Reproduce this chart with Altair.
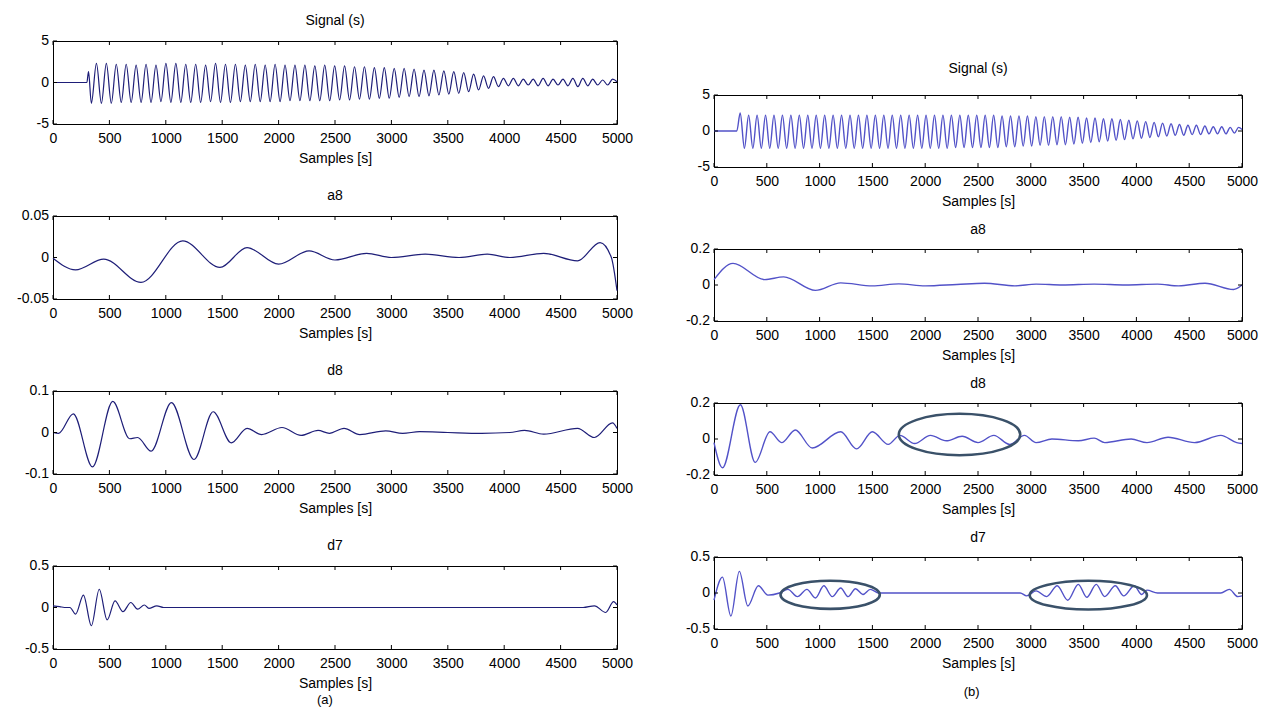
import altair as alt
import pandas as pd

X_TICKS = [0, 500, 1000, 1500, 2000, 2500, 3000, 3500, 4000, 4500, 5000]

# ---------------- (a) left column ----------------
SIG_A_START_X = [0, 300, 315]
SIG_A_START_Y = [0.0, 0.0, 1.3]
SIG_A_PEAK_X = [385, 473, 561, 649, 737, 825, 913, 1001, 1089, 1177, 1265, 1353, 1441, 1529,
                1617, 1705, 1793, 1881, 1969, 2057, 2145, 2233, 2321, 2409, 2497, 2585, 2673,
                2761, 2849, 2937, 3025, 3113, 3201, 3289, 3377, 3465, 3553, 3641, 3729, 3817,
                3905, 3993, 4081, 4169, 4257, 4345, 4433, 4521, 4609, 4697, 4785, 4873, 4961]
SIG_A_PEAK_Y = [2.3, 2.3, 2.2, 2.2, 2.1, 2.2, 2.1, 2.3, 2.3, 2.2, 2.2, 2.1, 2.3, 2.2,
                2.2, 2.1, 2.2, 2.1, 2.2, 2.1, 2.1, 2.1, 2.0, 2.1, 2.0, 2.0, 1.9,
                1.9, 1.8, 1.8, 1.7, 1.7, 1.6, 1.5, 1.5, 1.4, 1.3, 1.2, 1.0, 0.8,
                0.7, 0.5, 0.5, 0.4, 0.4, 0.5, 0.4, 0.4, 0.5, 0.5, 0.4, 0.3, 0.4]
SIG_A_TROUGH_X = [340, 429, 517, 605, 693, 781, 869, 957, 1045, 1133, 1221, 1309, 1397, 1485,
                  1573, 1661, 1749, 1837, 1925, 2013, 2101, 2189, 2277, 2365, 2453, 2541, 2629,
                  2717, 2805, 2893, 2981, 3069, 3157, 3245, 3333, 3421, 3509, 3597, 3685, 3773,
                  3861, 3949, 4037, 4125, 4213, 4301, 4389, 4477, 4565, 4653, 4741, 4829, 4917]
SIG_A_TROUGH_Y = [-2.5, -2.5, -2.5, -2.4, -2.4, -2.4, -2.4, -2.3, -2.4, -2.4,
                  -2.4, -2.4, -2.3, -2.4, -2.4, -2.3, -2.3, -2.3, -2.3, -2.3,
                  -2.2, -2.2, -2.2, -2.2, -2.2, -2.1, -2.1, -2.0, -2.0, -1.9,
                  -1.9, -1.8, -1.7, -1.7, -1.6, -1.5, -1.4, -1.3, -1.1, -0.9,
                  -0.7, -0.5, -0.4, -0.4, -0.3, -0.4, -0.4, -0.3, -0.4, -0.5,
                  -0.4, -0.3, -0.3]
SIG_A_END_X = [5000]
SIG_A_END_Y = [0.1]

A8_A_X = [0, 200, 450, 780, 1150, 1480, 1720, 2000, 2270, 2500, 2780, 3000, 3300, 3600,
          3850, 4050, 4350, 4650, 4850, 4950, 5000]
A8_A_Y = [-0.001, -0.015, -0.002, -0.03, 0.02, -0.012, 0.012, -0.008, 0.008, -0.003, 0.005,
          0.0, 0.004, 0.0, 0.004, 0.0, 0.005, -0.004, 0.018, 0.0, -0.04]

D8_A_X = [0, 50, 180, 350, 530, 680, 750, 870, 1050, 1250, 1420, 1580, 1720, 1850, 2030,
          2200, 2350, 2450, 2580, 2720, 2950, 3100, 3250, 3500, 3800, 4050, 4180, 4350,
          4650, 4800, 4960, 5000]
D8_A_Y = [0.0, -0.002, 0.045, -0.083, 0.075, -0.015, -0.012, -0.045, 0.072, -0.065, 0.05,
          -0.025, 0.01, -0.005, 0.012, -0.007, 0.005, -0.002, 0.01, -0.005, 0.004, -0.002,
          0.002, 0.0, -0.002, 0.0, 0.005, -0.004, 0.01, -0.012, 0.023, 0.01]

D7_A_X = [0, 60, 100, 150, 200, 270, 340, 410, 480, 550, 620, 690, 750, 810, 850, 920, 980,
          1100, 4700, 4800, 4900, 4970, 5000]
D7_A_Y = [0.02, 0.01, 0.0, 0.0, -0.08, 0.15, -0.22, 0.22, -0.15, 0.08, -0.05, 0.06, -0.02,
          0.03, -0.01, 0.02, 0.0, 0.0, 0.0, 0.02, -0.06, 0.07, 0.03]

# ---------------- (b) right column ----------------
SIG_B_START_X = [0, 216]
SIG_B_START_Y = [0.0, 0.0]
SIG_B_PEAK_X = [248, 328, 408, 488, 568, 648, 728, 808, 888, 968, 1048, 1128, 1208, 1288,
                1368, 1448, 1528, 1608, 1688, 1768, 1848, 1928, 2008, 2088, 2168, 2248, 2328,
                2408, 2488, 2568, 2648, 2728, 2808, 2888, 2968, 3048, 3128, 3208, 3288, 3368,
                3448, 3528, 3608, 3688, 3768, 3848, 3928, 4008, 4088, 4168, 4248, 4328, 4408,
                4488, 4568, 4648, 4728, 4808, 4888, 4968]
SIG_B_PEAK_Y = [2.5, 2.2, 2.2, 2.2, 2.2, 2.2, 2.2, 2.2, 2.2, 2.2,
                2.2, 2.2, 2.2, 2.2, 2.2, 2.2, 2.2, 2.2, 2.2, 2.2,
                2.2, 2.2, 2.2, 2.2, 2.2, 2.2, 2.2, 2.2, 2.2, 2.2,
                2.2, 2.1, 2.1, 2.1, 2.1, 2.0, 2.0, 2.0, 2.0, 1.9,
                1.9, 1.8, 1.8, 1.7, 1.7, 1.6, 1.5, 1.4, 1.3, 1.2,
                1.1, 1.0, 0.9, 0.8, 0.8, 0.7, 0.6, 0.6, 0.5, 0.5]
SIG_B_TROUGH_X = [288, 368, 448, 528, 608, 688, 768, 848, 928, 1008, 1088, 1168, 1248, 1328,
                  1408, 1488, 1568, 1648, 1728, 1808, 1888, 1968, 2048, 2128, 2208, 2288,
                  2368, 2448, 2528, 2608, 2688, 2768, 2848, 2928, 3008, 3088, 3168, 3248,
                  3328, 3408, 3488, 3568, 3648, 3728, 3808, 3888, 3968, 4048, 4128, 4208,
                  4288, 4368, 4448, 4528, 4608, 4688, 4768, 4848, 4928]
SIG_B_TROUGH_Y = [-2.4, -2.4, -2.4, -2.4, -2.4, -2.4, -2.4, -2.4, -2.4, -2.4,
                  -2.4, -2.4, -2.4, -2.4, -2.4, -2.4, -2.4, -2.4, -2.4, -2.4,
                  -2.4, -2.4, -2.4, -2.4, -2.4, -2.3, -2.3, -2.3, -2.3, -2.3,
                  -2.3, -2.2, -2.2, -2.1, -2.1, -2.0, -2.0, -1.9, -1.9, -1.8,
                  -1.7, -1.6, -1.5, -1.4, -1.3, -1.2, -1.1, -1.0, -0.9, -0.8,
                  -0.7, -0.6, -0.6, -0.5, -0.5, -0.4, -0.4, -0.4, -0.3]
SIG_B_END_X = [5000]
SIG_B_END_Y = [0.2]

A8_B_X = [0, 180, 480, 660, 960, 1200, 1500, 1750, 2000, 2300, 2560, 2850, 3050, 3300, 3600,
          3900, 4200, 4400, 4650, 4920, 5000]
A8_B_Y = [0.03, 0.12, 0.03, 0.045, -0.03, 0.012, -0.005, 0.006, -0.005, 0.003, 0.01, -0.005,
          0.005, 0.0, 0.005, 0.0, 0.005, -0.005, 0.01, -0.025, 0.0]

D8_B_X = [0, 80, 250, 390, 530, 640, 770, 930, 1200, 1350, 1500, 1650, 1760, 1900, 2050,
          2200, 2350, 2500, 2650, 2800, 2940, 3050, 3200, 3450, 3600, 3700, 3950, 4100, 4300,
          4550, 4800, 4950, 5000]
D8_B_Y = [-0.02, -0.16, 0.19, -0.13, 0.04, -0.02, 0.05, -0.05, 0.04, -0.055, 0.04, -0.03,
          0.02, -0.025, 0.02, -0.01, 0.015, -0.02, 0.02, -0.03, 0.02, -0.02, 0.0, -0.01, 0.005,
          -0.02, 0.0, -0.02, 0.01, -0.02, 0.02, -0.02, -0.025]

D7_B_X = [0, 80, 160, 240, 320, 420, 510, 620, 700, 790, 880, 960, 1040, 1120, 1200, 1270,
          1340, 1410, 1480, 1560, 2900, 2960, 3050, 3150, 3250, 3350, 3450, 3530, 3620, 3700,
          3800, 3880, 3980, 4050, 4100, 4200, 4800, 4880, 4960, 5000]
D7_B_Y = [-0.1, 0.22, -0.32, 0.3, -0.18, 0.1, -0.03, 0.0, 0.05, -0.05, 0.05, -0.07, 0.1, -0.05,
          0.07, -0.05, 0.06, -0.02, 0.05, 0.0, 0.0, -0.04, 0.03, -0.05, 0.1, -0.1, 0.12, -0.06,
          0.12, -0.05, 0.1, -0.04, 0.1, -0.02, 0.04, 0.0, 0.0, 0.05, -0.05, -0.04]

# highlighted regions (data extents): x_start, x_end, y_low, y_high
D8_B_ELLIPSES = [(1750, 2900, -0.09, 0.14)]
D7_B_ELLIPSES = [(630, 1570, -0.22, 0.17), (2990, 4100, -0.23, 0.17)]

FONT = "Liberation Sans"
LEFT_COLOR = "#1e1e78"
RIGHT_COLOR = "#5252c8"
ELLIPSE_COLOR = "#3a5169"


def make_panel(xs, ys, title, ydom, yticks, color, w, h, lw, title_offset, ellipses=()):
    df = pd.DataFrame({"x": xs, "y": ys}).sort_values("x")
    xsc = alt.Scale(domain=[0, 5000], nice=False, zero=False)
    ysc = alt.Scale(domain=ydom, nice=False, zero=False)
    xaxis = alt.Axis(values=X_TICKS, format="d", title="Samples [s]", ticks=False,
                     domain=False, grid=False, labelPadding=7, titlePadding=6,
                     labelFlush=False, labelOverlap=False)
    line = alt.Chart(df).mark_line(color=color, strokeWidth=lw, interpolate="monotone").encode(
        x=alt.X("x:Q", scale=xsc, axis=xaxis),
        y=alt.Y("y:Q", scale=ysc, axis=None),
    )
    xt = pd.DataFrame({"x": X_TICKS})
    yt = pd.DataFrame({"y": yticks, "lab": [f"{v:g}" for v in yticks]})
    tick_top = alt.Chart(xt).mark_rule(color="black", strokeWidth=1).encode(
        x="x:Q", y=alt.value(0), y2=alt.value(4))
    tick_bot = alt.Chart(xt).mark_rule(color="black", strokeWidth=1).encode(
        x="x:Q", y=alt.value(h), y2=alt.value(h - 4))
    tick_l = alt.Chart(yt).mark_rule(color="black", strokeWidth=1).encode(
        y=alt.Y("y:Q", axis=None), x=alt.value(0), x2=alt.value(4))
    tick_r = alt.Chart(yt).mark_rule(color="black", strokeWidth=1).encode(
        y=alt.Y("y:Q", axis=None), x=alt.value(w), x2=alt.value(w - 4))
    ylab = alt.Chart(yt).mark_text(align="right", baseline="middle", dx=-4, font=FONT,
                                   fontSize=14, color="black").encode(
        y=alt.Y("y:Q", axis=None), x=alt.value(0), text="lab:N")
    layers = [line, tick_top, tick_bot, tick_l, tick_r, ylab]
    yspan = ydom[1] - ydom[0]
    for (x1, x2, y1, y2) in ellipses:
        wpx = (x2 - x1) / 5000 * w
        hpx = (y2 - y1) / yspan * h
        r = hpx / wpx
        path = f"M -1 0 A 1 {r:.4f} 0 1 0 1 0 A 1 {r:.4f} 0 1 0 -1 0 Z"
        edf = pd.DataFrame({"x": [(x1 + x2) / 2], "y": [(y1 + y2) / 2]})
        layers.append(
            alt.Chart(edf).mark_point(shape=path, size=wpx * wpx, filled=False,
                                      stroke=ELLIPSE_COLOR, strokeWidth=2.6, opacity=1).encode(
                x="x:Q", y=alt.Y("y:Q", axis=None))
        )
    return alt.layer(*layers).properties(
        width=w, height=h, title=alt.TitleParams(title, offset=title_offset))


def build(start_x, start_y, px, py, tx, ty, ex, ey):
    return start_x + px + tx + ex, start_y + py + ty + ey


LW, LH = 564, 83
RW, RH = 528, 72

sa_x, sa_y = build(SIG_A_START_X, SIG_A_START_Y, SIG_A_PEAK_X, SIG_A_PEAK_Y,
                   SIG_A_TROUGH_X, SIG_A_TROUGH_Y, SIG_A_END_X, SIG_A_END_Y)
sb_x, sb_y = build(SIG_B_START_X, SIG_B_START_Y, SIG_B_PEAK_X, SIG_B_PEAK_Y,
                   SIG_B_TROUGH_X, SIG_B_TROUGH_Y, SIG_B_END_X, SIG_B_END_Y)

left = alt.vconcat(
    make_panel(sa_x, sa_y, "Signal (s)", [-5, 5], [-5, 0, 5], LEFT_COLOR, LW, LH, 1.2, 6),
    make_panel(A8_A_X, A8_A_Y, "a8", [-0.05, 0.05], [-0.05, 0, 0.05], LEFT_COLOR, LW, LH, 1.2, 6),
    make_panel(D8_A_X, D8_A_Y, "d8", [-0.1, 0.1], [-0.1, 0, 0.1], LEFT_COLOR, LW, LH, 1.2, 6),
    make_panel(D7_A_X, D7_A_Y, "d7", [-0.5, 0.5], [-0.5, 0, 0.5], LEFT_COLOR, LW, LH, 1.2, 6),
    spacing=92, bounds="flush",
).properties(title=alt.TitleParams("(a)", orient="bottom", offset=3, fontSize=13))

spacer = alt.Chart(pd.DataFrame({"x": [0]})).mark_point(opacity=0).encode(
    x=alt.value(0), y=alt.value(0)
).properties(width=RW, height=1, view=alt.ViewBackground(strokeOpacity=0))

right_inner = alt.vconcat(
    make_panel(sb_x, sb_y, "Signal (s)", [-5, 5], [-5, 0, 5], RIGHT_COLOR, RW, RH, 1.4, 12),
    make_panel(A8_B_X, A8_B_Y, "a8", [-0.2, 0.2], [-0.2, 0, 0.2], RIGHT_COLOR, RW, RH, 1.4, 5),
    make_panel(D8_B_X, D8_B_Y, "d8", [-0.2, 0.2], [-0.2, 0, 0.2], RIGHT_COLOR, RW, RH, 1.4, 5,
               D8_B_ELLIPSES),
    make_panel(D7_B_X, D7_B_Y, "d7", [-0.5, 0.5], [-0.5, 0, 0.5], RIGHT_COLOR, RW, RH, 1.4, 5,
               D7_B_ELLIPSES),
    spacing=82, bounds="flush",
)
right = alt.vconcat(spacer, right_inner, spacing=53, bounds="flush").properties(
    title=alt.TitleParams("(b)", orient="bottom", offset=15, fontSize=13))

chart = alt.hconcat(left, right, spacing=51, bounds="full").properties(
    padding={"left": 16, "top": 13, "right": 0, "bottom": 0},
    background="white",
).configure_view(stroke="black", strokeWidth=1).configure_axis(
    labelFont=FONT, labelFontSize=14, labelColor="black",
    titleFont=FONT, titleFontSize=14, titleColor="black", titleFontWeight="normal",
).configure_title(font=FONT, fontSize=14, fontWeight="normal", color="black", anchor="middle")

chart.save("out.html", embed_options={"renderer": "svg", "actions": False})
